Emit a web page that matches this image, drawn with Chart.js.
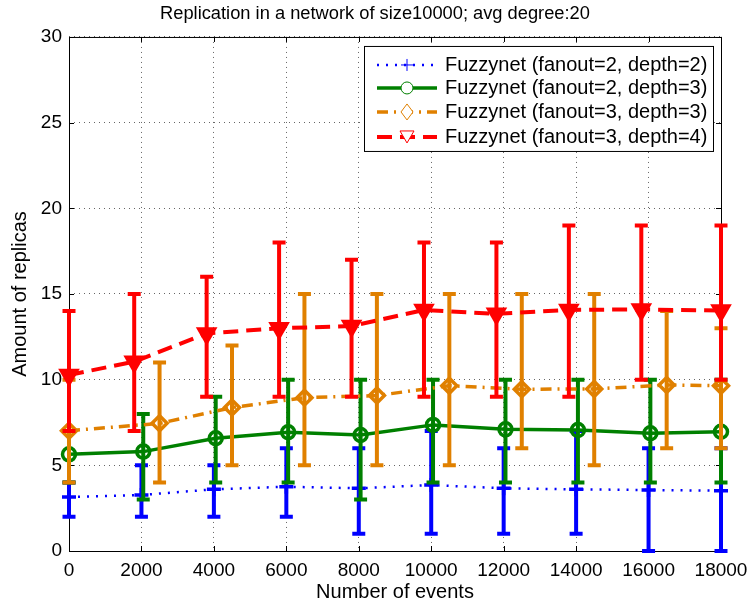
<!DOCTYPE html>
<html lang="en">
<head>
    <meta charset="UTF-8">
    <title>Replication</title>
    <style>
        html, body { margin: 0; padding: 0; background: #fff; }
        #wrap { width: 750px; height: 605px; }
    </style>
</head>
<body>
    <div id="wrap"><canvas id="chart" width="750" height="605"></canvas></div>

    <script src="https://cdn.jsdelivr.net/npm/chart.js"></script>
    <script>
        // x positions (each series is slightly shifted in the original)
        var xBlue   = [0, 2000, 4000, 6000, 8000, 10000, 12000, 14000, 16000, 18000];
        var xGreen  = [0, 2050, 4050, 6050, 8050, 10050, 12050, 14050, 16050, 18000];
        var xOrange = [0, 2500, 4500, 6500, 8500, 10500, 12500, 14500, 16500, 18000];
        var xRed    = [0, 1800, 3800, 5800, 7800, 9800, 11800, 13800, 15800, 18000];

        // means
        var meanBlue   = [3.15, 3.27, 3.6, 3.75, 3.66, 3.85, 3.66, 3.6, 3.56, 3.52];
        var meanGreen  = [5.64, 5.8, 6.58, 6.93, 6.77, 7.36, 7.1, 7.06, 6.87, 6.96];
        var meanOrange = [7.02, 7.45, 8.37, 8.95, 9.07, 9.65, 9.44, 9.46, 9.69, 9.65];
        var meanRed    = [10.27, 11.05, 12.7, 13.0, 13.13, 14.07, 13.84, 14.07, 14.1, 14.03];

        // error bar ends
        var loBlue   = [2, 2, 2, 2, 1, 1, 1, 1, 0, 0];
        var hiBlue   = [4, 5, 5, 6, 6, 7, 6, 7, 6, 6];
        var loGreen  = [4, 3, 4, 4, 3, 4, 4, 4, 4, 4];
        var hiGreen  = [7, 8, 9, 10, 10, 10, 10, 10, 10, 10];
        var loOrange = [4, 4, 5, 5, 5, 5, 6, 5, 6, 6];
        var hiOrange = [10, 11, 12, 15, 15, 15, 15, 15, 14, 13];
        var loRed    = [7, 7, 9, 9, 9, 9, 9, 9, 10, 10];
        var hiRed    = [14, 15, 16, 18, 17, 18, 18, 19, 19, 19];

        var seriesLabels = [
            'Fuzzynet (fanout=2, depth=2)',
            'Fuzzynet (fanout=2, depth=3)',
            'Fuzzynet (fanout=3, depth=3)',
            'Fuzzynet (fanout=3, depth=4)'
        ];

        var FONT = "'Liberation Sans', Arial, Helvetica, sans-serif";

        function points(xs, ys, lo, hi) {
            return xs.map(function(x, i) {
                return { x: x, y: ys[i], lo: lo[i], hi: hi[i] };
            });
        }

        // vertical error bars, drawn just before each dataset's own line
        var errorBars = {
            id: 'errorBars',
            beforeDatasetDraw: function(chart, args) {
                var ds = chart.data.datasets[args.index];
                var xs = chart.scales.x, ys = chart.scales.y;
                var ctx = chart.ctx;
                ctx.save();
                ctx.strokeStyle = ds.borderColor;
                ctx.lineWidth = 4;
                ctx.setLineDash([]);
                ds.data.forEach(function(p) {
                    var px = xs.getPixelForValue(p.x);
                    var top = ys.getPixelForValue(p.hi);
                    var bot = ys.getPixelForValue(p.lo);
                    ctx.beginPath();
                    ctx.moveTo(px, top); ctx.lineTo(px, bot);
                    ctx.moveTo(px - 6.5, top); ctx.lineTo(px + 6.5, top);
                    ctx.moveTo(px - 6.5, bot); ctx.lineTo(px + 6.5, bot);
                    ctx.stroke();
                });
                ctx.restore();
            }
        };

        // matlab style box with inward ticks
        var frame = {
            id: 'frame',
            beforeDatasetsDraw: function(chart) {
                var a = chart.chartArea, ctx = chart.ctx;
                var xs = chart.scales.x, ys = chart.scales.y;
                ctx.save();
                ctx.strokeStyle = '#000';
                ctx.lineWidth = 1;
                ctx.setLineDash([]);
                ctx.strokeRect(a.left + 0.5, a.top + 0.5, a.right - a.left, a.bottom - a.top);
                ctx.beginPath();
                xs.ticks.forEach(function(t) {
                    var px = Math.round(xs.getPixelForValue(t.value)) + 0.5;
                    ctx.moveTo(px, a.bottom); ctx.lineTo(px, a.bottom - 5);
                    ctx.moveTo(px, a.top); ctx.lineTo(px, a.top + 5);
                });
                ys.ticks.forEach(function(t) {
                    var py = Math.round(ys.getPixelForValue(t.value)) + 0.5;
                    ctx.moveTo(a.left, py); ctx.lineTo(a.left + 5, py);
                    ctx.moveTo(a.right, py); ctx.lineTo(a.right - 5, py);
                });
                ctx.stroke();
                ctx.restore();
            }
        };

        function drawMarker(ctx, kind, x, y) {
            ctx.beginPath();
            if (kind === 'cross') {
                ctx.moveTo(x - 6, y); ctx.lineTo(x + 6, y);
                ctx.moveTo(x, y - 6); ctx.lineTo(x, y + 6);
                ctx.stroke();
                return;
            }
            if (kind === 'circle') {
                ctx.arc(x, y, 6, 0, Math.PI * 2);
            } else if (kind === 'diamond') {
                ctx.moveTo(x, y - 8); ctx.lineTo(x + 6, y); ctx.lineTo(x, y + 8); ctx.lineTo(x - 6, y);
                ctx.closePath();
            } else {
                ctx.moveTo(x - 7, y - 6); ctx.lineTo(x + 7, y - 6); ctx.lineTo(x, y + 6);
                ctx.closePath();
            }
            ctx.fillStyle = '#fff';
            ctx.fill();
            ctx.stroke();
        }

        // legend box in the top right corner of the axes
        var boxLegend = {
            id: 'boxLegend',
            afterDraw: function(chart) {
                var a = chart.chartArea, ctx = chart.ctx;
                var w = 349, h = 105;
                var left = a.right - 8 - w, top = a.top + 9;
                ctx.save();
                ctx.fillStyle = '#fff';
                ctx.fillRect(left, top, w, h);
                ctx.strokeStyle = '#000';
                ctx.lineWidth = 1;
                ctx.strokeRect(left + 0.5, top + 0.5, w, h);
                var rows = [19, 42, 66, 91];
                chart.data.datasets.forEach(function(ds, i) {
                    var y = top + rows[i];
                    ctx.strokeStyle = ds.borderColor;
                    ctx.lineWidth = ds.borderWidth;
                    ctx.setLineDash(ds.borderDash || []);
                    ctx.beginPath();
                    ctx.moveTo(left + 13, y); ctx.lineTo(left + 73, y);
                    ctx.stroke();
                    ctx.setLineDash([]);
                    ctx.lineWidth = 1;
                    drawMarker(ctx, ds.legendMarker, left + 43, y);
                    ctx.fillStyle = '#000';
                    ctx.font = '20px ' + FONT;
                    ctx.textBaseline = 'middle';
                    ctx.textAlign = 'left';
                    ctx.fillText(ds.label, left + 81, y + 1);
                });
                ctx.restore();
            }
        };

        var ctx = document.getElementById('chart').getContext('2d');
        new Chart(ctx, {
            type: 'line',
            data: {
                datasets: [{
                    label: seriesLabels[0],
                    data: points(xBlue, meanBlue, loBlue, hiBlue),
                    borderColor: '#0000ff',
                    backgroundColor: '#0000ff',
                    borderWidth: 2.5,
                    borderDash: [2, 7],
                    pointStyle: 'cross',
                    pointRadius: 7,
                    pointBorderWidth: 3.5,
                    legendMarker: 'cross',
                    order: 4
                }, {
                    label: seriesLabels[1],
                    data: points(xGreen, meanGreen, loGreen, hiGreen),
                    borderColor: '#008000',
                    backgroundColor: 'rgba(0,0,0,0)',
                    borderWidth: 3.5,
                    pointStyle: 'circle',
                    pointRadius: 6.5,
                    pointBorderWidth: 3.5,
                    legendMarker: 'circle',
                    order: 3
                }, {
                    label: seriesLabels[2],
                    data: points(xOrange, meanOrange, loOrange, hiOrange),
                    borderColor: '#e08000',
                    backgroundColor: 'rgba(0,0,0,0)',
                    borderWidth: 3.5,
                    borderDash: [11, 6, 2, 6],
                    pointStyle: 'rectRot',
                    pointRadius: 7.5,
                    pointBorderWidth: 3.5,
                    legendMarker: 'diamond',
                    order: 2
                }, {
                    label: seriesLabels[3],
                    data: points(xRed, meanRed, loRed, hiRed),
                    borderColor: '#ff0000',
                    backgroundColor: '#ff0000',
                    borderWidth: 4,
                    borderDash: [15, 8],
                    pointStyle: 'triangle',
                    pointRotation: 180,
                    pointRadius: 9.5,
                    pointBorderWidth: 3,
                    legendMarker: 'triangle',
                    order: 1
                }]
            },
            options: {
                responsive: false,
                animation: false,
                clip: false,
                layout: { padding: 0 },
                plugins: {
                    legend: { display: false },
                    tooltip: { enabled: false },
                    title: {
                        display: true,
                        text: 'Replication in a network of size10000; avg degree:20',
                        color: '#000',
                        font: { family: FONT, size: 18.3, weight: 'normal' },
                        padding: { top: 3, bottom: 12 }
                    }
                },
                scales: {
                    x: {
                        type: 'linear',
                        min: 0,
                        max: 18000,
                        ticks: {
                            stepSize: 2000,
                            color: '#000',
                            padding: 8,
                            maxRotation: 0,
                            font: { family: FONT, size: 19 },
                            callback: function(v) { return String(v); }
                        },
                        grid: { color: '#666', lineWidth: 1, drawTicks: false },
                        border: { display: false, dash: [1, 4] },
                        title: {
                            display: true,
                            text: 'Number of events',
                            color: '#000',
                            font: { family: FONT, size: 20 },
                            padding: { top: 0, bottom: 1 }
                        },
                        afterFit: function(scale) {
                            scale.height = 54;
                            scale.paddingLeft = 0;
                            scale.paddingRight = 29;
                        }
                    },
                    y: {
                        min: 0,
                        max: 30,
                        ticks: {
                            stepSize: 5,
                            color: '#000',
                            padding: 7,
                            font: { family: FONT, size: 19 }
                        },
                        grid: { color: '#666', lineWidth: 1, drawTicks: false },
                        border: { display: false, dash: [1, 4] },
                        title: {
                            display: true,
                            text: 'Amount of replicas',
                            color: '#000',
                            font: { family: FONT, size: 20 },
                            padding: { top: 8, bottom: 0 }
                        },
                        afterFit: function(scale) {
                            scale.width = 69;
                            scale.paddingTop = 0;
                            scale.paddingBottom = 0;
                        }
                    }
                }
            },
            plugins: [frame, errorBars, boxLegend]
        });
    </script>
</body>
</html>
